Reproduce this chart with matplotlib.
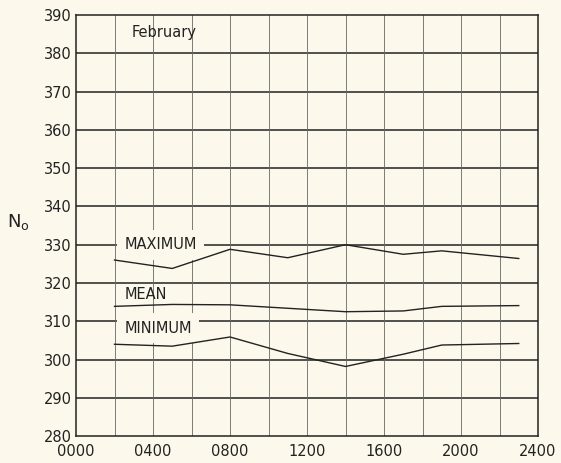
import matplotlib.pyplot as plt
from numpy import arange

hours = [200, 500, 800, 1100, 1400, 1700, 1900, 2300]
maximum = [326.0, 323.8, 328.8, 326.6, 330.0, 327.5, 328.4, 326.4]
mean = [313.9, 314.4, 314.3, 313.4, 312.5, 312.7, 313.9, 314.1]
minimum = [304.0, 303.5, 305.9, 301.6, 298.2, 301.4, 303.8, 304.2]
xticks = [0, 400, 800, 1200, 1600, 2000, 2400]
xlabels = ["0000", "0400", "0800", "1200", "1600", "2000", "2400"]
yticks = list(range(280, 391, 10))

bg = "#fcf9ec"
ink = "#222222"

fig = plt.figure(figsize=(5.61, 4.63), dpi=100, facecolor=bg)
ax = fig.add_axes([0.1355, 0.058, 0.8235, 0.9096])
ax.set_facecolor(bg)

for y in yticks[1:-1]:
    ax.axhline(y, color=ink, lw=1.1, zorder=1)
for x in arange(200, 2400, 200):
    ax.axvline(x, color="#666666", lw=0.6, zorder=1)

for series in (maximum, mean, minimum):
    ax.plot(hours, series, color=ink, lw=1.0, zorder=3)

box = dict(facecolor=bg, edgecolor="none", pad=5.5)
ax.text(250, 330.0, "MAXIMUM", fontsize=10.5, color=ink, va="center",
        ha="left", bbox=box, zorder=2)
ax.text(250, 317.1, "MEAN", fontsize=10.5, color=ink, va="center",
        ha="left", zorder=2)
ax.text(250, 308.2, "MINIMUM", fontsize=10.5, color=ink, va="center",
        ha="left", bbox=box, zorder=2)
ax.text(290, 385.3, "February", fontsize=10.5, color=ink, va="center",
        ha="left", zorder=2)

ax.set_xlim(0, 2400)
ax.set_ylim(280, 390)
ax.set_xticks(xticks, xlabels)
ax.set_yticks(yticks)
ax.tick_params(length=0, labelsize=10.5, colors=ink)
ax.tick_params(axis="x", pad=6)
ax.tick_params(axis="y", pad=3)
for spine in ax.spines.values():
    spine.set_color(ink)
    spine.set_linewidth(1.1)

fig.text(0.012, 0.52, "N$_\\mathregular{o}$", fontsize=13, color=ink,
         va="center", ha="left")

fig.savefig("out.png", dpi=100, facecolor=bg)
